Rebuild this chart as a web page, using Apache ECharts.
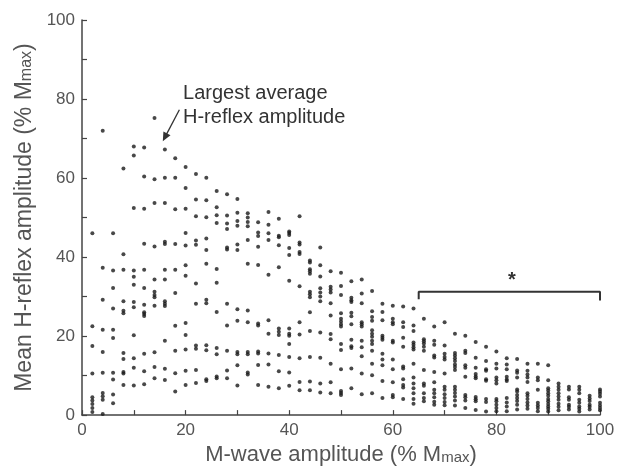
<!DOCTYPE html>
<html>
<head>
<meta charset="utf-8">
<script src="https://cdn.jsdelivr.net/npm/echarts@6/dist/echarts.min.js"></script>
<style>
  html, body { margin: 0; padding: 0; background: #fff; }
  #chart { width: 632px; height: 471px; }
</style>
</head>
<body>
<div id="chart"></div>
<script>
// M-wave columns (% Mmax), one stimulus level every 2 %
const mWave = [];
for (let m = 2; m <= 100; m += 2) mWave.push(m);

// mean H-reflex values (% Mmax) read for each M-wave column
const hReflex = [
  [46, 22.5, 17.5, 10.5, 4.5, 3.7, 2.8, 1.8, 0.8],
  [72, 37.3, 29.2, 21.6, 16, 10.7, 5.6, 4.8, 3.9, 0.3],
  [46, 36.6, 32.2, 27, 21.6, 19.5, 10.7, 9, 5.2, 3],
  [62.4, 40.7, 36.8, 28.8, 26.4, 25.8, 15.7, 14.2, 10.9, 10.5, 7.6],
  [68, 65.7, 52.4, 36.6, 35, 33, 28.6, 27.3, 20.2, 14.4, 12, 7.5],
  [67.7, 60.4, 52.2, 43.4, 36.8, 32.2, 27.9, 26, 25.6, 25.1, 15.5, 11.1, 7.8],
  [75.2, 59.7, 53.7, 42.7, 34.3, 31.2, 30.4, 29.8, 27.7, 15.9, 12.2, 9.3],
  [67.2, 60.1, 53.7, 43.9, 43.3, 36.8, 34.3, 28.8, 28.2, 27.6, 18.8, 11.7, 8.9],
  [65, 60.1, 52.1, 43.3, 36.8, 30.9, 22.6, 16.3, 10.6, 6],
  [62.8, 57.5, 52.2, 46.1, 42.9, 37.9, 35.3, 23.3, 20.3, 16.6, 11.2, 7.6],
  [61, 54.6, 50.3, 44.2, 43.1, 33.3, 28.2, 17.6, 16.8, 11.4, 8.1],
  [60.1, 54.4, 50.1, 44.7, 41.8, 38.3, 29.2, 28.3, 17.7, 16.4, 9.1, 8.6],
  [56.7, 52.6, 50.6, 48.6, 37, 33.5, 26.1, 17, 15.4, 9.8, 9.3],
  [55.9, 50.5, 48.5, 47.1, 42.4, 41.9, 28.2, 22.7, 16.3, 11.3, 9.3],
  [54.7, 51.2, 49.1, 47.9, 43.2, 41.8, 26.8, 23.9, 16, 15.4, 12.6, 7.5],
  [51.1, 50, 48.9, 47.8, 44.3, 38.3, 26.5, 23.5, 16, 15.4, 10.8, 10.3],
  [48.8, 46.2, 45.3, 42.6, 38, 23.2, 22.7, 16.1, 15.6, 12.7, 7.6],
  [51.4, 48.2, 46, 44.3, 35.5, 24, 20.6, 15.6, 12.8, 7.2],
  [49.7, 45.4, 45, 43, 37.4, 21.9, 21.1, 20.3, 15.2, 11.1, 6.8],
  [46.5, 46.1, 45.6, 42.3, 40.5, 34, 21.9, 20.6, 20.1, 18, 14.7, 10.8, 7.4],
  [50.3, 43.7, 43.2, 41.3, 40.8, 32.6, 23.5, 20.4, 14.4, 8.4, 6.3],
  [39.1, 38.6, 36.9, 36.4, 35.8, 31.2, 30.6, 29.8, 26, 21.3, 14.7, 8.5, 6.3],
  [42.4, 37.9, 35.1, 32.1, 31, 30, 28.8, 20.9, 14.5, 8, 5.7],
  [36.4, 32.5, 31.8, 31, 28.3, 25.2, 20.5, 19.2, 13, 8.3, 5.5],
  [36, 32.7, 30.4, 25.8, 24.4, 23.7, 23, 22.4, 18, 16.5, 11.6, 6.1, 5.6, 5.1],
  [33.9, 29.7, 29.1, 28.6, 25.9, 25, 23, 19.1, 17.4, 17, 11.8, 6.8],
  [34.3, 30.8, 28.3, 23.5, 23, 22.4, 18.8, 17.2, 14.9, 10.5, 5.3],
  [31.4, 26.3, 24.8, 23.9, 21.5, 20.6, 19.8, 18.8, 18, 16.3, 13, 10.1, 5.5],
  [28.2, 26.1, 24, 20.1, 19.6, 19.1, 15.5, 14.1, 12.6, 8.6, 4.3],
  [27.7, 24.4, 23.5, 23, 18.8, 18.4, 14.1, 11.6, 8.3, 5.1, 4.5],
  [27.5, 23.5, 22.3, 19.6, 17.3, 12.3, 11.8, 9.1, 7.6, 7, 4.1],
  [27, 22.7, 21.3, 18.4, 17.8, 17.2, 16.6, 13, 9.5, 8, 6.8, 5.5, 4.1, 2.9],
  [24.4, 19.2, 18.7, 18.1, 17.3, 16.3, 11.4, 8, 7.4, 5.5, 4.3, 3.5],
  [22.4, 18.8, 17.8, 15.1, 14.6, 10.9, 8.3, 6.4, 5.5, 4.5, 3.4, 2.6],
  [23.5, 17.6, 15.5, 14.7, 14.1, 10.5, 7.2, 6.4, 5.3, 4.3, 3.3, 2.5],
  [20.6, 15.7, 15.1, 14.4, 13.7, 12.8, 12.2, 11.4, 7.2, 6.4, 5.6, 4.7, 3.7, 2.4],
  [20.1, 16.3, 15.7, 12.6, 12, 9.7, 5.1, 4.5, 3.7, 1.8],
  [18.5, 14.5, 12, 10.4, 9.8, 9.3, 4.6, 4, 3.5, 1.3],
  [17.3, 13.7, 11.6, 11.2, 9.1, 8.7, 4.1, 3.3, 0.9],
  [16.1, 13, 11.8, 9.5, 8.8, 8, 4.1, 3.5, 2.6, 1.8, 1],
  [14.4, 12.8, 11.6, 9.7, 9, 8.6, 4.3, 3.2, 2.2, 1],
  [14.2, 11.3, 10.7, 9.5, 6.5, 6, 5.1, 4.3, 3.6, 2.6, 1.4],
  [13, 11.2, 10.3, 9.5, 8.4, 5.5, 4.9, 4.1, 3.2, 2.4, 1.6],
  [13, 9.5, 8.8, 6.4, 3.1, 2.4, 1.8, 1],
  [12.6, 8.8, 6.8, 6.2, 5.5, 4.9, 4.1, 3.5, 2.8, 2.2, 1.6, 0.9],
  [8, 7.2, 6.4, 5.5, 4.7, 3.9, 2.9, 2.1, 1.2],
  [7.2, 6.5, 4.5, 3.9, 2.6, 2.1, 1.4],
  [7.2, 6.4, 5.5, 3.9, 3.1, 2.2, 1.6, 0.9],
  [4.9, 4.2, 3.6, 2.6, 2.1, 1.4],
  [6.5, 6, 5.4, 4.7, 3.1, 2.4, 1.8, 1.2]
];

const xTicks = [0, 20, 40, 60, 80, 100];
const yTicks = [0, 20, 40, 60, 80, 100];

// annotations (data units)
const arrowFrom = [18.8, 77.3];
const arrowTo = [16, 70.3];
const noteAt = [19.5, 84.4];
const bracketX = [65, 65, 100, 100];
const bracketY = [29.3, 31.2, 31.2, 29.0];
const starAt = [83, 34];

const points = [];
mWave.forEach((m, i) => {
  hReflex[i].forEach((h) => points.push([m, h]));
});

const chart = echarts.init(document.getElementById("chart"));

const axisColor = "#444";
const labelColor = "#555";
const font = "Liberation Sans";

const axisBase = (ticks, name, gap, size) => ({
  type: "value",
  min: ticks[0],
  max: ticks[ticks.length - 1],
  interval: ticks[1] - ticks[0],
  name: name,
  nameLocation: "middle",
  nameGap: gap,
  nameTextStyle: {
    color: labelColor,
    fontFamily: font,
    rich: {
      a: { fontSize: size, fontFamily: font, color: labelColor },
      b: { fontSize: Math.round(size * 0.7), fontFamily: font, color: labelColor, padding: [5, 0, 0, 0] },
    },
  },
  axisLine: { show: true, lineStyle: { color: axisColor, width: 1.5 } },
  axisTick: { show: true, inside: true, length: 5, lineStyle: { color: axisColor, width: 1.2 } },
  minorTick: { show: true, splitNumber: 2, length: 5, lineStyle: { color: axisColor, width: 1.2 } },
  axisLabel: { color: labelColor, fontSize: 17, fontFamily: font, margin: 7 },
  splitLine: { show: false },
});

const option = {
  backgroundColor: "#fff",
  animation: false,
  grid: { left: 82, right: 32, top: 20, bottom: 49 },
  xAxis: axisBase(xTicks, "{a|M-wave amplitude (% M}{b|max}{a|)}", 22, 22),
  yAxis: axisBase(yTicks, "{a|Mean H-reflex amplitude (% M}{b|max}{a|)}", 44, 23),
  series: [
    {
      type: "scatter",
      data: points,
      symbolSize: 4,
      itemStyle: { color: "#1a1a1a" },
      markLine: {
        silent: true,
        symbol: ["none", "triangle"],
        symbolSize: [8, 9],
        label: { show: false },
        lineStyle: { color: "#333", width: 1.3, type: "solid", curveness: -0.3 },
        data: [[{ coord: arrowFrom }, { coord: arrowTo }]],
      },
    },
    {
      type: "line",
      data: bracketX.map((x, i) => [x, bracketY[i]]),
      symbol: "none",
      lineStyle: { color: "#333", width: 2 },
      silent: true,
    },
  ],
};

chart.setOption(option);

const notePx = chart.convertToPixel({ gridIndex: 0 }, noteAt);
const starPx = chart.convertToPixel({ gridIndex: 0 }, starAt);
chart.setOption({
  graphic: [
    {
      type: "text",
      x: notePx[0],
      y: notePx[1],
      style: {
        text: "Largest average\nH-reflex amplitude",
        font: "20px Liberation Sans",
        fill: "#333",
        lineHeight: 24,
        textAlign: "left",
        textVerticalAlign: "top",
      },
    },
    {
      type: "text",
      x: starPx[0],
      y: starPx[1],
      style: {
        text: "*",
        font: "bold 20px Liberation Sans",
        fill: "#333",
        textAlign: "center",
        textVerticalAlign: "middle",
      },
    },
  ],
});
</script>
</body>
</html>
